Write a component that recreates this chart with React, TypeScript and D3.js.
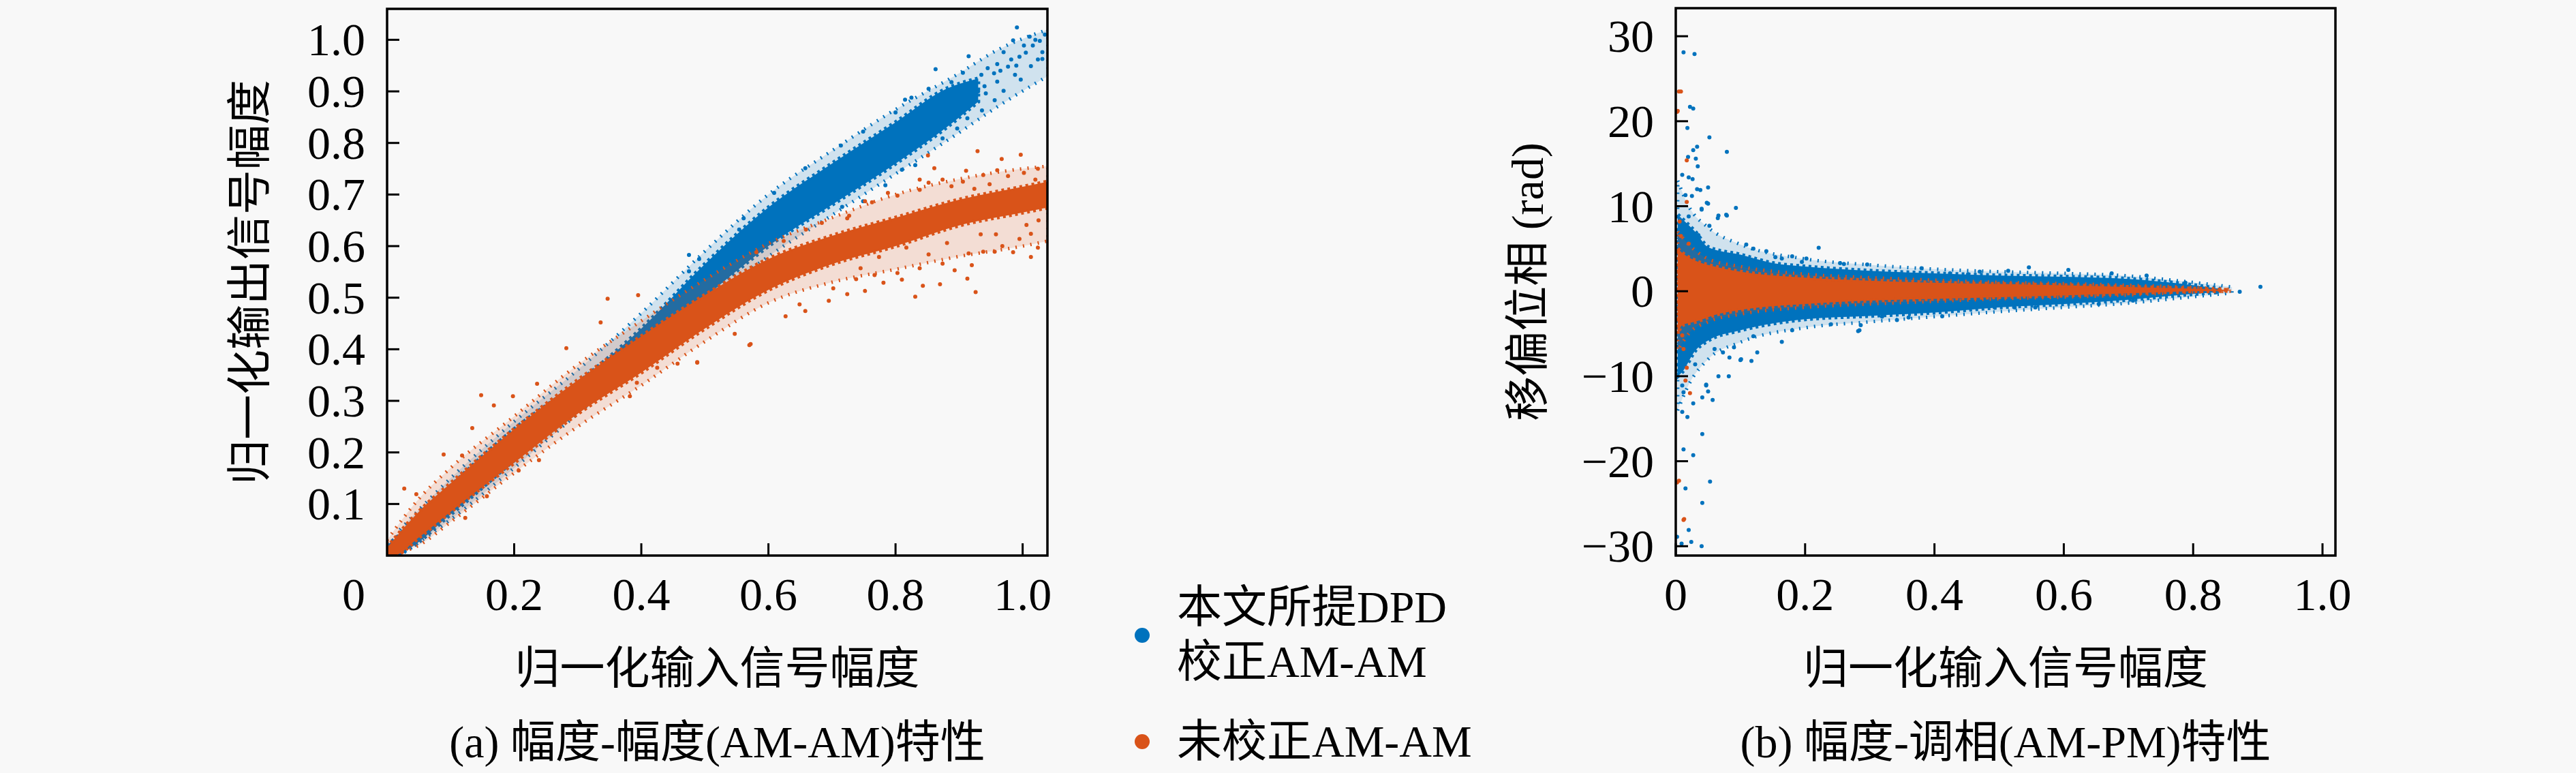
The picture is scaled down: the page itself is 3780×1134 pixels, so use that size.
import * as d3 from 'd3';

// (a) AM-AM: dense cores read as [x, lower, upper]
const amDpdBand: [number, number, number][] = [
  [0.0, 0.0, 0.02], [0.02, 0.005, 0.04], [0.1, 0.08, 0.135], [0.2, 0.185, 0.245],
  [0.3, 0.285, 0.335], [0.4, 0.39, 0.44], [0.5, 0.5, 0.565], [0.6, 0.6, 0.675],
  [0.7, 0.68, 0.76], [0.8, 0.76, 0.84], [0.88, 0.83, 0.905], [0.93, 0.88, 0.925],
];
const amRawBand: [number, number, number][] = [
  [0.0, 0.0, 0.015], [0.01, 0.0, 0.03], [0.05, 0.035, 0.085], [0.1, 0.085, 0.14],
  [0.2, 0.18, 0.245], [0.3, 0.275, 0.34], [0.4, 0.355, 0.425], [0.5, 0.44, 0.505],
  [0.6, 0.515, 0.575], [0.7, 0.565, 0.62], [0.8, 0.6, 0.655], [0.9, 0.64, 0.69],
  [1.0, 0.665, 0.715], [1.04, 0.675, 0.725],
];
// looser scatter around the cores
const amDpdFringe: [number, number, number][] = [
  [0.02, 0.0, 0.05], [0.1, 0.07, 0.15], [0.2, 0.17, 0.26], [0.3, 0.275, 0.36],
  [0.4, 0.38, 0.47], [0.5, 0.485, 0.59], [0.6, 0.58, 0.7], [0.7, 0.66, 0.785],
  [0.8, 0.74, 0.865], [0.9, 0.82, 0.935], [0.96, 0.87, 0.98], [1.04, 0.93, 1.02],
];
const amRawFringe: [number, number, number][] = [
  [0.0, 0.0, 0.03], [0.05, 0.02, 0.11], [0.1, 0.065, 0.17], [0.2, 0.16, 0.27],
  [0.3, 0.25, 0.37], [0.4, 0.33, 0.455], [0.5, 0.415, 0.535], [0.6, 0.49, 0.605],
  [0.7, 0.53, 0.655], [0.8, 0.555, 0.7], [0.9, 0.58, 0.73], [1.0, 0.6, 0.75], [1.04, 0.61, 0.755],
];
// scattered points outside the cores [x, y]
const amDpdDots: [number, number][] = [
  [0.991, 1.024], [0.985, 0.999], [0.915, 0.968], [0.863, 0.943], [0.97, 0.976], [1.011, 1.006],
  [0.852, 0.905], [0.825, 0.888], [0.815, 0.884], [0.8, 0.859], [0.749, 0.822], [0.714, 0.795],
  [0.658, 0.751], [0.609, 0.703], [0.561, 0.654], [0.936, 0.863], [0.897, 0.828], [0.874, 0.809],
  [0.831, 0.757], [0.81, 0.748], [0.784, 0.718], [0.749, 0.687], [0.716, 0.676], [0.956, 0.883],
  [0.997, 0.923], [1.031, 0.963], [0.913, 0.848], [0.475, 0.583], [0.491, 0.575], [0.475, 0.551],
  [0.554, 0.632], [0.935, 0.932], [0.945, 0.945], [0.96, 0.919], [0.977, 0.948], [0.995, 0.967],
  [1.002, 0.989], [1.016, 0.989], [1.027, 0.998], [1.031, 0.976], [0.988, 0.932], [0.97, 0.901],
  [0.942, 0.896], [0.924, 0.918], [0.917, 0.888], [1.013, 0.949], [1.024, 0.962], [0.96, 0.953],
  [0.888, 0.918], [0.906, 0.936], [0.94, 0.91], [0.955, 0.935], [0.99, 0.95], [1.005, 0.975],
  [1.02, 1.0], [0.93, 0.9], [0.965, 0.94], [0.982, 0.962], [1.035, 1.01], [0.9, 0.87],
];
const amRawDots: [number, number][] = [
  [0.347, 0.498], [0.395, 0.505], [0.336, 0.452], [0.282, 0.402], [0.148, 0.311], [0.198, 0.309],
  [0.168, 0.291], [0.089, 0.196], [0.027, 0.13], [0.046, 0.119], [0.123, 0.073], [0.382, 0.309],
  [0.425, 0.364], [0.488, 0.374], [0.457, 0.372], [0.547, 0.43], [0.239, 0.185], [0.207, 0.165],
  [0.157, 0.115], [0.393, 0.335], [0.134, 0.247], [0.236, 0.333], [0.118, 0.194],
  [0.929, 0.784], [0.997, 0.777], [0.967, 0.769], [0.851, 0.776], [0.861, 0.751], [0.911, 0.746],
  [0.838, 0.729], [1.024, 0.75], [0.831, 0.502], [0.926, 0.511], [0.87, 0.526], [0.843, 0.523],
  [0.724, 0.507], [0.695, 0.494], [0.658, 0.474], [0.572, 0.41], [0.985, 0.588], [1.013, 0.624],
  [0.956, 0.589], [0.915, 0.586], [0.938, 0.589], [0.893, 0.553], [0.92, 0.563], [0.913, 0.537],
  [0.803, 0.548], [0.781, 0.529], [0.752, 0.513], [0.702, 0.518], [0.649, 0.487], [0.627, 0.464],
  [1.025, 0.65], [1.013, 0.579], [0.752, 0.687], [0.803, 0.698], [0.838, 0.709], [0.888, 0.716],
  [0.938, 0.738], [0.727, 0.659], [0.763, 0.685], [0.788, 0.703], [0.852, 0.723], [0.874, 0.729],
  [0.906, 0.725], [0.948, 0.72], [0.977, 0.736], [1.002, 0.742], [1.02, 0.729], [0.96, 0.747],
  [0.924, 0.711], [0.745, 0.557], [0.774, 0.579], [0.817, 0.597], [0.852, 0.584], [0.881, 0.606],
  [0.934, 0.623], [0.968, 0.6], [0.995, 0.614], [1.024, 0.597], [0.838, 0.557], [0.874, 0.566],
  [0.81, 0.535], [0.738, 0.536], [0.767, 0.544], [0.958, 0.623], [1.006, 0.641], [0.659, 0.632],
  [0.684, 0.645], [0.724, 0.654], [0.624, 0.61], [0.581, 0.588], [0.488, 0.375], [0.57, 0.408],
];

// (b) AM-PM: dense cores [x, lower, upper] in rad
const pmDpdBand: [number, number, number][] = [
  [0.003, -10, 9], [0.01, -9.5, 8.5], [0.03, -7, 7], [0.05, -5.8, 5.2], [0.1, -4.6, 4.3],
  [0.15, -3.8, 3.3], [0.2, -3.3, 2.9], [0.3, -2.9, 2.4], [0.4, -2.5, 2.1], [0.5, -1.9, 1.85],
  [0.6, -1.5, 1.7], [0.7, -1.0, 1.45], [0.78, -0.45, 0.9], [0.84, -0.1, 0.3],
];
const pmRawBand: [number, number, number][] = [
  [0.003, -5, 5], [0.01, -4, 4.5], [0.03, -3.6, 3.6], [0.06, -2.8, 2.9], [0.1, -2.2, 2.3],
  [0.2, -1.5, 1.6], [0.3, -1.1, 1.25], [0.4, -0.9, 1.0], [0.5, -0.7, 0.85], [0.6, -0.5, 0.7],
  [0.7, -0.25, 0.5], [0.8, 0.0, 0.3], [0.85, 0.05, 0.15],
];
const pmDpdFringe: [number, number, number][] = [
  [0.003, -14, 13], [0.02, -11, 10], [0.05, -8, 7.5], [0.1, -6, 5.5], [0.2, -4.3, 3.8],
  [0.3, -3.6, 3.1], [0.4, -3.0, 2.6], [0.5, -2.4, 2.3], [0.6, -1.9, 2.1], [0.7, -1.4, 1.8],
  [0.78, -0.8, 1.2], [0.86, -0.2, 0.5],
];
const pmRawFringe: [number, number, number][] = [
  [0.003, -7, 7], [0.02, -5, 5.5], [0.05, -3.6, 3.8], [0.1, -2.7, 2.9], [0.2, -1.9, 2.0],
  [0.3, -1.5, 1.6], [0.4, -1.2, 1.3], [0.5, -0.9, 1.05], [0.6, -0.7, 0.9], [0.7, -0.45, 0.7],
  [0.8, -0.1, 0.45], [0.86, 0.0, 0.2],
];
const pmDpdDots: [number, number][] = [
  [0.012, 28.1], [0.029, 27.9], [0.022, 21.7], [0.027, 21.5], [0.018, 19.2], [0.052, 18.1],
  [0.079, 16.4], [0.033, 17.0], [0.027, 16.6], [0.019, 15.8], [0.031, 15.6], [0.034, 14.7],
  [0.01, 13.7], [0.02, 13.4], [0.026, 13.2], [0.05, 12.2], [0.033, 12.0], [0.038, 11.9],
  [0.015, 11.3], [0.025, 11.2], [0.05, 10.3], [0.04, 9.7], [0.093, 9.8], [0.079, 8.9],
  [0.066, 8.9], [0.052, 7.7], [0.041, -16.8], [0.012, -18.6], [0.027, -19.3], [0.015, -23.2],
  [0.053, -22.4], [0.041, -24.9], [0.02, -28.1], [0.002, -28.9], [0.024, -29.5], [0.04, -30.0],
  [0.009, -29.7], [0.01, -11.1], [0.012, -11.9], [0.01, -14.2], [0.018, -14.8], [0.057, -12.8],
  [0.027, -13.2], [0.041, -12.5], [0.047, -11.1], [0.066, -10.0], [0.082, -10.0], [0.1, -8.1],
  [0.117, -8.2], [0.126, -7.2], [0.221, 5.1], [0.254, 3.3], [0.296, 3.14], [0.202, 3.85],
  [0.195, 3.45], [0.164, -5.95], [0.282, -4.7], [0.286, -4.0], [0.14, 4.7], [0.109, 5.5],
  [0.078, 9.0], [0.065, 8.6], [0.048, 10.4], [0.04, 9.6], [0.101, -8.0], [0.083, -7.8],
  [0.073, -7.2], [0.09, -6.6], [0.05, -11.8], [0.047, -11.0], [0.412, -2.95], [0.514, 2.4],
  [0.452, 2.0], [0.424, 2.1], [0.524, -1.9], [0.493, -1.9], [0.454, -1.95], [0.342, -3.4],
  [0.319, -3.0], [0.284, -4.6], [0.154, 4.0], [0.164, 3.85], [0.546, 2.8], [0.607, 2.5],
  [0.674, 2.1], [0.728, 1.85], [0.707, -1.1], [0.654, -1.5], [0.556, -1.9], [0.788, 1.0],
  [0.837, -0.07], [0.872, -0.07], [0.904, 0.52], [0.013, 7.5], [0.02, 8.8], [0.035, 6.6],
  [0.015, -7.9], [0.03, -8.6], [0.06, -6.8], [0.12, -5.3], [0.18, -4.6], [0.24, -3.9],
  [0.36, -3.1], [0.12, 5.0], [0.18, 4.1], [0.26, 3.2], [0.38, 2.7], [0.47, 2.3],
];
const pmRawDots: [number, number][] = [
  [0.008, 23.5], [0.002, 21.1], [0.002, -22.5], [0.012, -26.9], [0.022, -12.0], [0.017, 10.5],
  [0.017, 15.4], [0.01, -5.2], [0.017, -9.0], [0.005, -22.3], [0.013, -26.8], [0.005, 23.5],
  [0.003, 21.2], [0.008, 6.5], [0.012, -6.8], [0.006, 8.2], [0.015, -10.5], [0.02, 5.6],
];

const amXTicks = [0.2, 0.4, 0.6, 0.8, 1.0];
const amYTicks = [0.1, 0.2, 0.3, 0.4, 0.5, 0.6, 0.7, 0.8, 0.9, 1.0];
const pmXTicks = [0, 0.2, 0.4, 0.6, 0.8, 1.0];
const pmYTicks = [-30, -20, -10, 0, 10, 20, 30];

const BLUE = '#0072BD';
const ORANGE = '#D95319';
const LATIN = '"Liberation Serif", "Noto Sans CJK SC", serif';
const FS = 66;

type Band = [number, number, number][];

interface Series { core: Band; fringe: Band; dots: [number, number][]; color: string }

interface PanelProps {
  id: string;
  left: number; right: number; top: number; bottom: number;
  xDomain: [number, number]; yDomain: [number, number];
  xTicks: number[]; yTicks: number[];
  xFmt: (v: number) => string; yFmt: (v: number) => string;
  series: Series[];
  yLabel: string; yLabelGap: number; caption: string;
  zeroLabelShift?: number;
}

const Panel = (p: PanelProps) => {
  const x = d3.scaleLinear().domain(p.xDomain).range([p.left, p.right]);
  const y = d3.scaleLinear().domain(p.yDomain).range([p.bottom, p.top]);
  const area = d3.area<[number, number, number]>()
    .x(d => x(d[0])).y0(d => y(d[1])).y1(d => y(d[2]))
    .curve(d3.curveMonotoneX);
  const cx = (p.left + p.right) / 2;
  const cy = (p.top + p.bottom) / 2;

  return (
    <g>
      <defs>
        <clipPath id={p.id}>
          <rect x={p.left} y={p.top} width={p.right - p.left} height={p.bottom - p.top} />
        </clipPath>
      </defs>
      <g clipPath={`url(#${p.id})`}>
        {p.series.map((s, i) => (
          <g key={i}>
            {/* sparse scatter zone: speckled edge instead of a flat halo */}
            <path d={area(s.fringe) || ''} fill={s.color} fillOpacity={0.16}
              stroke={s.color} strokeWidth={5} strokeDasharray="2 9" />
            {s.dots.map((d, j) => (
              <circle key={j} cx={x(d[0])} cy={y(d[1])} r={3} fill={s.color} />
            ))}
            <path d={area(s.core) || ''} fill={s.color}
              stroke={s.color} strokeWidth={6} strokeDasharray="4 5" />
          </g>
        ))}
      </g>
      <rect x={p.left} y={p.top} width={p.right - p.left} height={p.bottom - p.top}
        fill="none" stroke="#000" strokeWidth={3.5} />
      {p.xTicks.map(t => (
        <g key={t}>
          <line x1={x(t)} x2={x(t)} y1={p.bottom} y2={p.bottom - 18} stroke="#000" strokeWidth={3} />
          <text x={x(t)} y={p.bottom + 57} textAnchor="middle" dominantBaseline="central"
            fontFamily={LATIN} fontSize={68}>{p.xFmt(t)}</text>
        </g>
      ))}
      {p.zeroLabelShift !== undefined && (
        <text x={x(0) - p.zeroLabelShift} y={p.bottom + 57} textAnchor="middle" dominantBaseline="central"
          fontFamily={LATIN} fontSize={68}>0</text>
      )}
      {p.yTicks.map(t => (
        <g key={t}>
          <line x1={p.left} x2={p.left + 18} y1={y(t)} y2={y(t)} stroke="#000" strokeWidth={3} />
          <text x={p.left - 32} y={y(t)} textAnchor="end" dominantBaseline="central"
            fontFamily={LATIN} fontSize={68}>{p.yFmt(t)}</text>
        </g>
      ))}
      <text transform={`translate(${p.left - p.yLabelGap},${cy}) rotate(-90)`}
        textAnchor="middle" dominantBaseline="central" fontFamily={LATIN} fontSize={FS}>{p.yLabel}</text>
      <text x={cx} y={980} textAnchor="middle" dominantBaseline="central"
        fontFamily={LATIN} fontSize={FS}>归一化输入信号幅度</text>
      <text x={cx} y={1088} textAnchor="middle" dominantBaseline="central"
        fontFamily={LATIN} fontSize={FS}>{p.caption}</text>
    </g>
  );
};

const App = () => {
  const minus = (v: number) => (v < 0 ? `\u2212${Math.abs(v)}` : `${v}`);
  return (
    <svg width={3780} height={1134} style={{ position: 'absolute', left: 0, top: 0 }}>
      <rect width={3780} height={1134} fill="#f8f8f8" />
      <Panel id="clipA" left={568} right={1537} top={13} bottom={815}
        xDomain={[0, 1.039]} yDomain={[0, 1.06]}
        xTicks={amXTicks} yTicks={amYTicks}
        xFmt={d3.format('.1f')} yFmt={d3.format('.1f')}
        series={[
          { core: amDpdBand, fringe: amDpdFringe, dots: amDpdDots, color: BLUE },
          { core: amRawBand, fringe: amRawFringe, dots: amRawDots, color: ORANGE },
        ]}
        yLabel="归一化输出信号幅度" yLabelGap={202} caption="(a) 幅度-幅度(AM-AM)特性"
        zeroLabelShift={49} />
      <Panel id="clipB" left={2459} right={3427} top={12} bottom={815}
        xDomain={[0, 1.02]} yDomain={[-31.1, 33.3]}
        xTicks={pmXTicks} yTicks={pmYTicks}
        xFmt={v => (v === 0 ? '0' : d3.format('.1f')(v))} yFmt={minus}
        series={[
          { core: pmDpdBand, fringe: pmDpdFringe, dots: pmDpdDots, color: BLUE },
          { core: pmRawBand, fringe: pmRawFringe, dots: pmRawDots, color: ORANGE },
        ]}
        yLabel="移偏位相 (rad)" yLabelGap={218} caption="(b) 幅度-调相(AM-PM)特性" />
      <g>
        <circle cx={1676} cy={932} r={11} fill={BLUE} />
        <circle cx={1676} cy={1088} r={11} fill={ORANGE} />
        <text x={1727} y={890} dominantBaseline="central" fontFamily={LATIN} fontSize={FS}>本文所提DPD</text>
        <text x={1727} y={970} dominantBaseline="central" fontFamily={LATIN} fontSize={FS}>校正AM-AM</text>
        <text x={1727} y={1087} dominantBaseline="central" fontFamily={LATIN} fontSize={FS}>未校正AM-AM</text>
      </g>
    </svg>
  );
};

export default App;
